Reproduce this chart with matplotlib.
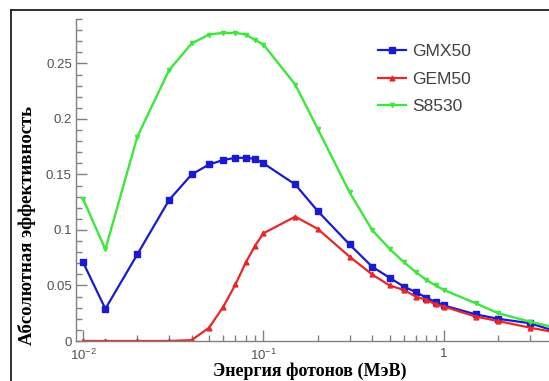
import matplotlib.pyplot as plt
from matplotlib.ticker import FixedLocator, NullFormatter, MultipleLocator
from matplotlib.lines import Line2D

plt.rcParams['font.family'] = ['Liberation Sans', 'DejaVu Sans']
plt.rcParams['mathtext.fontset'] = 'custom'
plt.rcParams['mathtext.rm'] = 'Liberation Sans'
plt.rcParams['mathtext.it'] = 'Liberation Sans:italic'

# Энергия фотонов, МэВ
energy = [0.01, 0.0133, 0.02, 0.03, 0.04, 0.05, 0.06, 0.07, 0.08, 0.09, 0.1,
          0.15, 0.2, 0.3, 0.4, 0.5, 0.6, 0.7, 0.8, 0.9, 1.0, 1.5, 2.0, 3.0, 4.0]

gmx50 = [0.071, 0.029, 0.078, 0.127, 0.150, 0.159, 0.163, 0.165, 0.165, 0.164, 0.160,
         0.141, 0.117, 0.087, 0.067, 0.057, 0.049, 0.044, 0.039, 0.035, 0.032,
         0.024, 0.020, 0.016, 0.0097]
gem50 = [0.0, 0.0, 0.0, 0.0, 0.0008, 0.012, 0.031, 0.051, 0.071, 0.086, 0.097,
         0.112, 0.101, 0.076, 0.060, 0.050, 0.046, 0.040, 0.037, 0.033, 0.031,
         0.022, 0.018, 0.012, 0.0083]
s8530 = [0.128, 0.0825, 0.184, 0.244, 0.268, 0.276, 0.2775, 0.2775, 0.276, 0.271, 0.267,
         0.231, 0.191, 0.134, 0.100, 0.083, 0.071, 0.062, 0.055, 0.050, 0.046,
         0.034, 0.025, 0.0174, 0.0127]

series_names = ["GMX50", "GEM50", "S8530"]

fig = plt.figure(figsize=(5.49, 3.81), dpi=100)
ax = fig.add_axes([76 / 549, 1 - 341 / 381, 1 - 76 / 549 + 0.002, (341 - 19) / 381])

ax.plot(energy, gmx50, color="#1a1ad0", lw=1.6, marker="s", ms=4.5, label=series_names[0])
ax.plot(energy, gem50, color="#e82828", lw=1.6, marker="^", ms=3.5, label=series_names[1])
ax.plot(energy, s8530, color="#3ee63e", lw=1.7, marker="v", ms=3, label=series_names[2])

ax.set_xscale("log")
ax.set_xlim(10 ** (-2 - 7 / 180), 10 ** (-2 + 466 / 180))
ax.set_ylim(0, 0.29)

# оси в стиле ROOT
for s in ["top", "right"]:
    ax.spines[s].set_visible(False)
for s in ["left", "bottom"]:
    ax.spines[s].set_color("#808080")
    ax.spines[s].set_linewidth(1.0)

ax.yaxis.set_major_locator(FixedLocator([0, 0.05, 0.1, 0.15, 0.2, 0.25]))
ax.yaxis.set_minor_locator(MultipleLocator(0.01))
ax.set_yticklabels(["0", "0.05", "0.1", "0.15", "0.2", "0.25"])

ax.xaxis.set_major_locator(FixedLocator([0.01, 0.1, 1]))
minors = [m * d for d in [0.01, 0.1, 1] for m in range(2, 10)]
ax.xaxis.set_minor_locator(FixedLocator(minors))
ax.xaxis.set_minor_formatter(NullFormatter())
ax.set_xticklabels([r"$10^{-2}$", r"$10^{-1}$", "1"])

ax.tick_params(which="both", direction="in", color="#808080", width=1.0)
ax.tick_params(which="major", length=8, labelsize=9.5, labelcolor="#505050")
ax.tick_params(which="minor", length=4.5)
ax.tick_params(axis="y", pad=3)
ax.tick_params(axis="x", pad=5)

leg = ax.legend(loc="upper left", bbox_to_anchor=(378 / 549, 1 - 44 / 381),
                bbox_transform=fig.transFigure, frameon=False, fontsize=12.5,
                handlelength=1.6, handletextpad=0.35, labelspacing=0.72,
                borderpad=0, borderaxespad=0)
for t in leg.get_texts():
    t.set_color("#404040")

fig.text(27 / 549, 1 - 225 / 381, "Абсолютная эффективность", rotation=90,
         ha="center", va="center", fontsize=13.5, fontweight="bold",
         family="Liberation Serif")
fig.text(310 / 549, 1.5 / 381, "Энергия фотонов (МэВ)", ha="center", va="bottom",
         fontsize=13, fontweight="bold", family="Liberation Serif")

# рамка вокруг рисунка
fig.add_artist(Line2D([11 / 549, 11 / 549], [0, 1 - 10 / 381], transform=fig.transFigure,
                      color="#202020", lw=1.3))
fig.add_artist(Line2D([11 / 549, 1], [1 - 10 / 381, 1 - 10 / 381], transform=fig.transFigure,
                      color="#202020", lw=1.3))

fig.savefig("out.png", dpi=100)
